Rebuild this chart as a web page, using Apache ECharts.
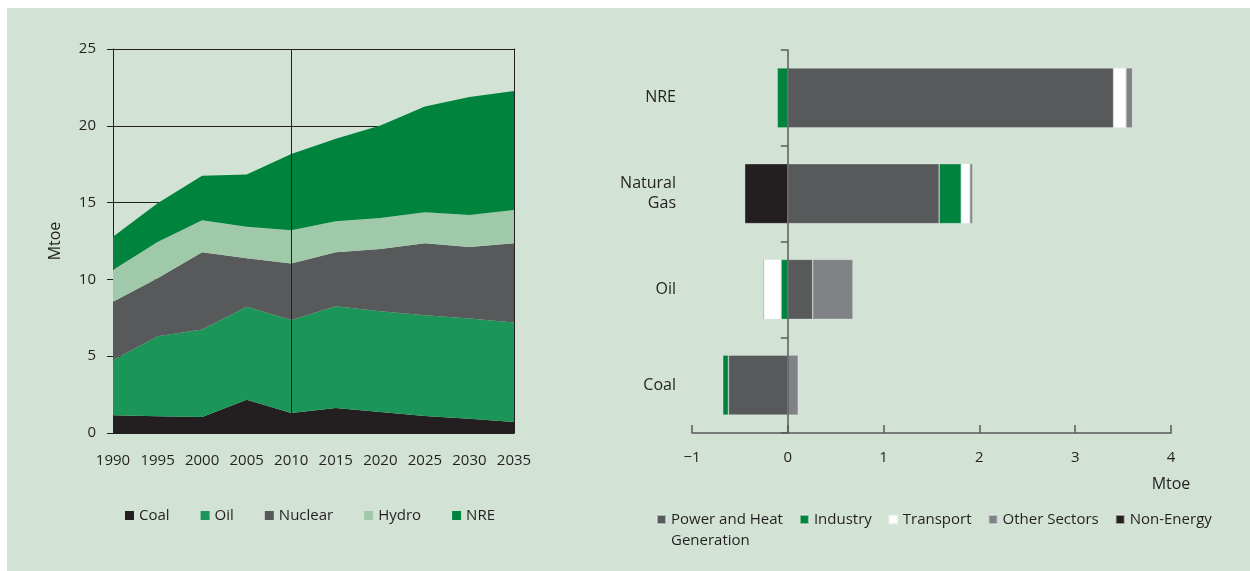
<!DOCTYPE html>
<html>
<head>
<meta charset="utf-8">
<script src="https://cdn.jsdelivr.net/npm/echarts@6/dist/echarts.min.js"></script>
<style>
html,body{margin:0;padding:0;background:#ffffff;}
#bg{position:absolute;left:7px;top:8px;right:0;bottom:0;background:#d2e3d6;}
#chart{position:absolute;left:0;top:0;width:1250px;height:571px;}
</style>
</head>
<body>
<div id="bg"></div>
<div id="chart"></div>
<script>
// ---- Left chart data (Mtoe) ----
const years = ['1990','1995','2000','2005','2010','2015','2020','2025','2030','2035'];
const coal    = [1.15, 1.09, 1.04, 2.17, 1.30, 1.63, 1.37, 1.11, 0.93, 0.72];
const oil     = [3.59, 5.21, 5.70, 6.05, 6.05, 6.63, 6.56, 6.56, 6.53, 6.48];
const nuclear = [3.80, 3.77, 5.02, 3.15, 3.69, 3.50, 4.05, 4.68, 4.65, 5.15];
const hydro   = [2.07, 2.36, 2.09, 2.06, 2.16, 2.02, 2.02, 2.02, 2.09, 2.17];
const nre     = [2.17, 2.53, 2.89, 3.40, 4.97, 5.37, 6.02, 6.89, 7.67, 7.74];
const leftYTicks = [0, 5, 10, 15, 20, 25];

// ---- Right chart data (Mtoe change by sector) ----
const fuels       = ['Coal', 'Oil', 'Natural\nGas', 'NRE'];
const powerHeat   = [-0.62, 0.26, 1.58, 3.40];
const industry    = [-0.06, -0.07, 0.23, -0.11];
const transport   = [0, -0.18, 0.09, 0.13];
const otherSect   = [0.11, 0.42, 0.03, 0.07];
const nonEnergy   = [0, -0.01, -0.45, 0];
const rightXTicks = [-1, 0, 1, 2, 3, 4];

const FONT = 'Open Sans';
const TXT = '#231f20';

const chart = echarts.init(document.getElementById('chart'), null, {renderer: 'canvas'});

function areaSeries(name, data, color) {
  return {
    name: name, type: 'line', stack: 'total', data: data,
    xAxisIndex: 0, yAxisIndex: 0,
    symbol: 'none', smooth: false,
    lineStyle: {width: 0, color: color},
    itemStyle: {color: color},
    areaStyle: {color: color, opacity: 1},
    emphasis: {disabled: true}
  };
}
function barSeries(name, data, color) {
  return {
    name: name, type: 'bar', stack: 'sect', data: data,
    xAxisIndex: 1, yAxisIndex: 2,
    barWidth: 60,
    itemStyle: {color: color, borderColor: 'rgba(225,232,227,0.6)', borderWidth: 0.6},
    emphasis: {disabled: true}
  };
}

const nreSeries = areaSeries('NRE', nre, '#00843d');
nreSeries.markLine = {
  silent: true, symbol: ['none', 'none'],
  label: {show: false},
  lineStyle: {color: TXT, width: 1, type: 'solid'},
  data: [{xAxis: '2010'}]
};

const option = {
  animation: false,
  textStyle: {fontFamily: FONT, color: TXT},
  grid: [
    {left: 113, top: 49, width: 401, height: 384},
    {left: 692, top: 50, width: 479, height: 383}
  ],
  xAxis: [
    {
      gridIndex: 0, type: 'category', data: years, boundaryGap: false,
      axisLine: {show: true, lineStyle: {color: TXT, width: 1}},
      axisTick: {show: false},
      axisLabel: {interval: 0, margin: 20, fontSize: 15, color: TXT, fontFamily: FONT},
      splitLine: {show: false}
    },
    {
      gridIndex: 1, type: 'value', min: rightXTicks[0], max: rightXTicks[rightXTicks.length - 1], interval: 1,
      axisLine: {show: true, onZero: false, lineStyle: {color: '#58595b', width: 1.5}},
      axisTick: {show: true, inside: true, length: 8, lineStyle: {color: '#58595b', width: 1.5}},
      axisLabel: {margin: 17, fontSize: 15, color: TXT, fontFamily: FONT,
        formatter: v => (v < 0 ? '\u2212' + Math.abs(v) : String(v))},
      splitLine: {show: false},
      name: 'Mtoe', nameLocation: 'end', nameGap: 0,
      nameTextStyle: {fontSize: 16, color: TXT, fontFamily: FONT, align: 'center', verticalAlign: 'top', padding: [43, 0, 0, 0]}
    }
  ],
  yAxis: [
    {
      gridIndex: 0, type: 'value', min: leftYTicks[0], max: leftYTicks[leftYTicks.length - 1], interval: 5,
      axisLine: {show: true, lineStyle: {color: TXT, width: 1}},
      axisTick: {show: true, length: 6, lineStyle: {color: TXT, width: 1}},
      axisLabel: {margin: 17, fontSize: 15, color: TXT, fontFamily: FONT},
      splitLine: {show: true, lineStyle: {color: TXT, width: 1}},
      name: 'Mtoe', nameLocation: 'middle', nameGap: 50, nameRotate: 90,
      nameTextStyle: {fontSize: 16, color: TXT, fontFamily: FONT}
    },
    {
      gridIndex: 0, type: 'value', position: 'right', min: 0, max: 25, interval: 5,
      axisLine: {show: true, onZero: false, lineStyle: {color: TXT, width: 1}},
      axisTick: {show: false}, axisLabel: {show: false}, splitLine: {show: false}
    },
    {
      gridIndex: 1, type: 'category', data: fuels, position: 'left',
      axisLine: {show: false, onZero: false}, axisTick: {show: false},
      axisLabel: {margin: 16, fontSize: 16, lineHeight: 20, color: TXT, fontFamily: FONT, align: 'right'},
      splitLine: {show: false}
    },
    {
      gridIndex: 1, type: 'category', data: fuels, position: 'left', z: 10,
      axisLine: {show: true, onZero: true, onZeroAxisIndex: 1, lineStyle: {color: '#58595b', width: 1.5}},
      axisTick: {show: true, length: 7, lineStyle: {color: '#58595b', width: 1.5}},
      axisLabel: {show: false},
      splitLine: {show: false}
    }
  ],
  legend: [
    {
      left: 125, top: 508, padding: 0, orient: 'horizontal',
      icon: 'rect', itemWidth: 9, itemHeight: 9, itemGap: 31,
      textStyle: {fontSize: 15, color: TXT, fontFamily: FONT},
      data: ['Coal', 'Oil', 'Nuclear', 'Hydro', 'NRE'],
      selectedMode: false
    },
    {
      left: 656, top: 488, padding: 0, orient: 'horizontal',
      icon: 'rect', itemWidth: 9, itemHeight: 9, itemGap: 16,
      textStyle: {fontSize: 15, color: TXT, fontFamily: FONT, lineHeight: 21},
      formatter: n => (n === 'Power and Heat Generation' ? '\nPower and Heat\nGeneration' : n),
      data: ['Power and Heat Generation', 'Industry', 'Transport', 'Other Sectors', 'Non-Energy'],
      selectedMode: false
    }
  ],
  series: [
    areaSeries('Coal', coal, '#231f20'),
    areaSeries('Oil', oil, '#1b9658'),
    areaSeries('Nuclear', nuclear, '#58595b'),
    areaSeries('Hydro', hydro, '#a0c9aa'),
    nreSeries,
    barSeries('Power and Heat Generation', powerHeat, '#58595b'),
    barSeries('Industry', industry, '#00843d'),
    barSeries('Transport', transport, '#ffffff'),
    barSeries('Other Sectors', otherSect, '#808285'),
    barSeries('Non-Energy', nonEnergy, '#231f20')
  ]
};
chart.setOption(option);
</script>
</body>
</html>
